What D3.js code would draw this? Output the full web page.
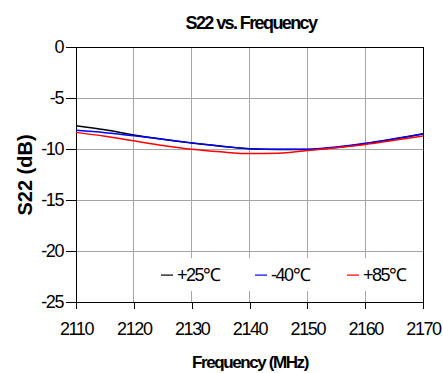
<!DOCTYPE html>
<html><head><meta charset="utf-8">
<script src="https://cdn.jsdelivr.net/npm/d3@7/dist/d3.min.js"></script>
<style>
body{margin:0;background:#fff;}
text{font-family:"Liberation Sans",Arial,sans-serif;}
</style></head>
<body><svg id="c" width="443" height="373"></svg>
<script>
const freqs = [2110,2115,2120,2125,2130,2135,2140,2145,2150,2155,2160,2165,2170];
const s22_p25 = [-7.72,-8.12,-8.62,-9.05,-9.42,-9.72,-9.97,-10.05,-10.05,-9.85,-9.48,-9.02,-8.5];
const s22_m40 = [-8.17,-8.4,-8.7,-9.05,-9.4,-9.7,-9.97,-10.03,-10.03,-9.8,-9.44,-9.0,-8.53];
const s22_p85 = [-8.37,-8.75,-9.2,-9.65,-10.03,-10.28,-10.45,-10.42,-10.15,-9.87,-9.55,-9.15,-8.73];
const seriesNames = ["+25\u2103","-40\u2103","+85\u2103"];
const seriesColors = ["#000000","#0000ff","#ff0000"];
const xTicks = [2110,2120,2130,2140,2150,2160,2170];
const yTicks = [0,-5,-10,-15,-20,-25];

const svg = d3.select("#c");
const L=76,R=423,T=47,B=302;
const x = d3.scaleLinear().domain([2110,2170]).range([L,R]);
const y = d3.scaleLinear().domain([-25,0]).range([B,T]);

// grid
svg.append("g").selectAll("line").data(xTicks.slice(1,-1)).join("line")
  .attr("x1",d=>x(d)).attr("x2",d=>x(d)).attr("y1",T).attr("y2",B)
  .attr("stroke","#a6a6a6").attr("stroke-width",1).attr("shape-rendering","crispEdges");
svg.append("g").selectAll("line").data(yTicks.slice(1,-1)).join("line")
  .attr("x1",L).attr("x2",R).attr("y1",d=>y(d)).attr("y2",d=>y(d))
  .attr("stroke","#a6a6a6").attr("stroke-width",1).attr("shape-rendering","crispEdges");

// axes
const xAxis = svg.append("g").attr("transform",`translate(0,${B})`)
  .call(d3.axisBottom(x).tickValues(xTicks).tickSize(7).tickPadding(13).tickFormat(d3.format("d")));
const yAxis = svg.append("g").attr("transform",`translate(${L},0)`)
  .call(d3.axisLeft(y).tickValues(yTicks).tickSize(10).tickPadding(3).tickFormat(d=>d===0?"0":String(d)));
[xAxis,yAxis].forEach(g=>{
  g.select(".domain").remove();
  g.selectAll(".tick line").attr("stroke","#000").attr("shape-rendering","crispEdges");
  g.selectAll(".tick text").attr("fill","#000").style("font-size","18px").style("letter-spacing","-1.4px")
   .attr("font-family","Liberation Sans, Arial, sans-serif");
});

// frame
svg.append("rect").attr("x",L).attr("y",T).attr("width",R-L).attr("height",B-T)
  .attr("fill","none").attr("stroke","#000").attr("stroke-width",1).attr("shape-rendering","crispEdges");

// lines
const line = d3.line().x((d,i)=>x(freqs[i])).y(d=>y(d)).curve(d3.curveMonotoneX);
[s22_p25,s22_m40,s22_p85].forEach((s,i)=>{
  svg.append("path").datum(s).attr("d",line).attr("fill","none")
    .attr("stroke",seriesColors[i]).attr("stroke-width",1.5);
});

// legend
const lg = svg.append("g");
lg.append("rect").attr("x",145).attr("y",258).attr("width",R-145-1).attr("height",33).attr("fill","#fff");
const lx = [161,255,347];
seriesNames.forEach((n,i)=>{
  lg.append("rect").attr("x",lx[i]).attr("y",274.5).attr("width",12).attr("height",1.2)
    .attr("fill",seriesColors[i]);
  lg.append("text").attr("x",lx[i]+16).attr("y",281).text(n)
    .style("font-size","18px").style("letter-spacing","-1.5px");
});

// titles
svg.append("text").attr("x",251).attr("y",29).attr("text-anchor","middle")
  .style("font-size","18px").style("font-weight","bold").style("letter-spacing","-1.6px")
  .text("S22 vs. Frequency");
svg.append("text").attr("x",250).attr("y",368).attr("text-anchor","middle")
  .style("font-size","17px").style("font-weight","bold").style("letter-spacing","-1.4px")
  .text("Frequency (MHz)");
svg.append("text").attr("transform","translate(32,175) rotate(-90)").attr("text-anchor","middle")
  .style("font-size","20px").style("font-weight","bold")
  .text("S22 (dB)");
</script></body></html>
